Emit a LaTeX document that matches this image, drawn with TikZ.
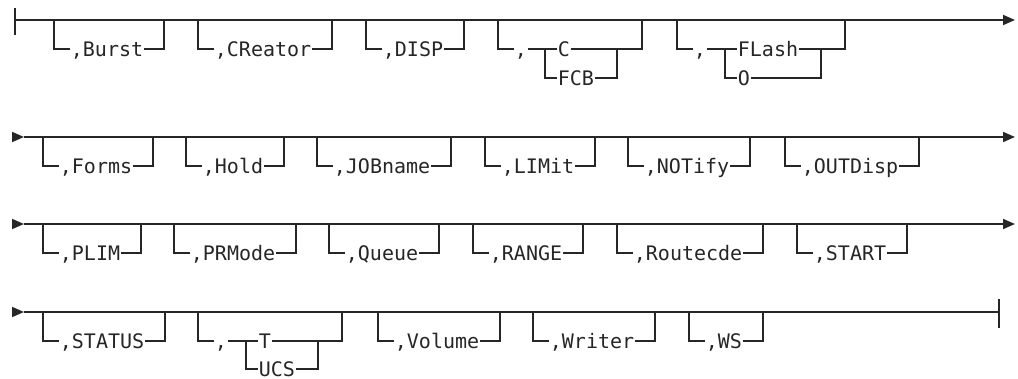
\documentclass[tikz,border=0pt]{standalone}
\usepackage{fontspec}
\usepackage{tikz}
\newfontfamily\railfont{DejaVu Sans Mono}
\usetikzlibrary{arrows.meta, positioning}

\begin{document}
\begin{tikzpicture}[x=0.5pt, y=-0.5pt, line width=0.9pt, draw=black!85,
    kw/.style={font=\railfont, text=black!85, inner sep=0pt, text height=0.73em, text depth=0pt, anchor=west},
    railarrow/.style={-{Triangle[length=6pt, width=5pt]}},
    thickdash/.style={line width=1.2pt}]
    \useasboundingbox (0,0) rectangle (1018,379);

    % Main lines
    \coordinate (r1w) at (15,20);
    \coordinate (r1e) at (1015,20);
    \coordinate (r1top) at (15,8);
    \coordinate (r1bot) at (15,35);
    \draw (r1top) -- (r1bot);
    \draw[railarrow] (r1w) -- (r1e);
    \draw[thickdash] (23,20) -- (31,20);
    \foreach \r/\y in {2/137, 3/224} {
        \coordinate (r\r a) at (12,\y);
        \coordinate (r\r w) at (24,\y);
        \coordinate (r\r e) at (1015,\y);
        \draw[railarrow] (r\r a) -- (r\r w);
        \draw[railarrow] (r\r w) -- (r\r e);
    }
    \coordinate (r4a) at (12,312);
    \coordinate (r4w) at (24,312);
    \coordinate (r4e) at (999,312);
    \coordinate (r4top) at (999,299);
    \coordinate (r4bot) at (999,328);
    \draw[railarrow] (r4a) -- (r4w);
    \draw (r4w) -- (r4e);
    \draw (r4top) -- (r4bot);
    \draw[thickdash] (767,312) -- (790,312);

    % Row 1
    \foreach \nm/\x/\txt in {burst/54/{,Burst}, creator/198/{,CReator}, disp/366/{,DISP}} {
        \node[kw] (\nm) at (\x+16,49) {\txt};
        \draw (\nm.west) -| ++(-16,-29) (\nm.east) -| ++(20,-29);
    }
    % C or FCB
    \node[kw] (cmac) at (514,49) {,};
    \node[kw] (c) at (557,49) {C};
    \node[kw] (fcb) at (557,78) {FCB};
    \coordinate (fcbL) at (545,49);
    \coordinate (fcbR) at (617,49);
    \coordinate (cR) at (642,20);
    \draw (cmac.west) -| ++(-16,-29);
    \draw (cmac.east) -- (c.west);
    \draw (c.east) -| (cR);
    \draw (fcbL) |- (fcb.west);
    \draw (fcb.east) -| (fcbR);
    % FLash or O
    \node[kw] (cmaf) at (693,49) {,};
    \node[kw] (flash) at (737,49) {FLash};
    \node[kw] (o) at (737,78) {O};
    \coordinate (oL) at (725,49);
    \coordinate (oR) at (821,49);
    \coordinate (flashR) at (845,20);
    \draw (cmaf.west) -| ++(-16,-29);
    \draw (cmaf.east) -- (flash.west);
    \draw (flash.east) -| (flashR);
    \draw (oL) |- (o.west);
    \draw (o.east) -| (oR);

    % Row 2
    \foreach \nm/\x/\txt in {forms/43/{,Forms}, hold/186/{,Hold}, jobname/317/{,JOBname},
                             limit/485/{,LIMit}, notify/628/{,NOTify}, outdisp/785/{,OUTDisp}} {
        \node[kw] (\nm) at (\x+16,166) {\txt};
        \draw (\nm.west) -| ++(-16,-29) (\nm.east) -| ++(20,-29);
    }

    % Row 3
    \foreach \nm/\x/\txt in {plim/43/{,PLIM}, prmode/174/{,PRMode}, queue/329/{,Queue},
                             range/473/{,RANGE}, routecde/617/{,Routecde}, start/797/{,START}} {
        \node[kw] (\nm) at (\x+16,253) {\txt};
        \draw (\nm.west) -| ++(-16,-29) (\nm.east) -| ++(20,-29);
    }

    % Row 4
    \foreach \nm/\x/\txt in {status/43/{,STATUS}, volume/378/{,Volume}, writer/533/{,Writer}, ws/689/{,WS}} {
        \node[kw] (\nm) at (\x+16,341) {\txt};
        \draw (\nm.west) -| ++(-16,-29) (\nm.east) -| ++(20,-29);
    }
    % T or UCS
    \node[kw] (cmat) at (214,341) {,};
    \node[kw] (t) at (258,341) {T};
    \node[kw] (ucs) at (258,369) {UCS};
    \coordinate (ucsL) at (246,341);
    \coordinate (ucsR) at (318,341);
    \coordinate (tR) at (342,312);
    \draw (cmat.west) -| ++(-16,-29);
    \draw (cmat.east) -- (t.west);
    \draw (t.east) -| (tR);
    \draw (ucsL) |- (ucs.west);
    \draw (ucs.east) -| (ucsR);
\end{tikzpicture}
\end{document}
